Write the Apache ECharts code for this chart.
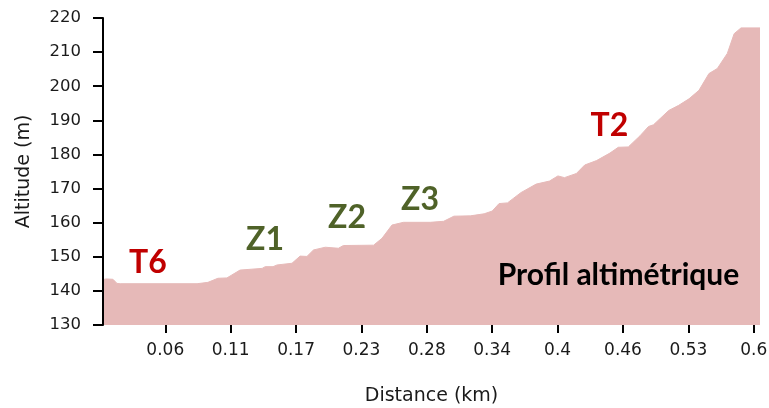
<!DOCTYPE html>
<html>
<head>
<meta charset="utf-8">
<script src="https://cdn.jsdelivr.net/npm/echarts@6/dist/echarts.min.js"></script>
<style>html,body{margin:0;padding:0;background:#fff}#chart{width:769px;height:408px}</style>
</head>
<body>
<div id="chart"></div>
<script>
// Position along the track (sample number) and altitude (m) read from the profile
const trackPosition = [0, 1, 3.2, 4.5, 5.5, 30.2, 30.5, 33.7, 36.9, 39.8, 44, 51.1, 52.1, 54.6, 55.9, 60.7, 63.3, 65.5, 67.6, 71.4, 75.6, 77.2, 86.9, 89.6, 92.8, 96.5, 105.1, 109.4, 112.7, 118, 122.4, 125, 127.2, 129.9, 134.2, 139.1, 143.4, 146.1, 148.2, 152, 154.7, 158.5, 162.8, 165.5, 168.7, 172.5, 175.2, 176.8, 181.7, 184.9, 188.2, 191.4, 194.6, 197.3, 200.5, 202.7, 204.9, 211];
const altitude = [143.3, 143.5, 143.4, 142.2, 142.1, 142.1, 142.5, 142.5, 143.7, 143.8, 146.1, 146.6, 147.1, 147.1, 147.6, 148.1, 150.2, 150.1, 152.0, 152.8, 152.5, 153.3, 153.4, 155.4, 159.3, 160.1, 160.1, 160.4, 161.9, 162.0, 162.6, 163.4, 165.6, 165.8, 168.8, 171.3, 172.2, 173.7, 173.2, 174.4, 176.9, 178.2, 180.4, 182.1, 182.2, 185.5, 188.2, 188.7, 192.9, 194.4, 196.3, 198.8, 203.7, 205.2, 209.6, 215.4, 217.1, 217.1];
// Distance tick marks (sample number) and their labels (km)
const tickPositions = [20, 41, 62, 83, 104, 125, 146, 167, 188, 209];
const tickLabels = ['0.06', '0.11', '0.17', '0.23', '0.28', '0.34', '0.4', '0.46', '0.53', '0.6'];
// Annotations
const zoneLabels = ['T6', 'Z1', 'Z2', 'Z3', 'T2'];
const zoneColors = ['#C00000', '#4F6228', '#4F6228', '#4F6228', '#C00000'];
const chartTitle = 'Profil altimétrique';

const chart = echarts.init(document.getElementById('chart'), null, {renderer: 'canvas'});
const seriesData = trackPosition.map((x, i) => [x, altitude[i]]);
const zonePos = [[148, 263], [265, 239.5], [347, 218], [420, 199.5], [609.5, 125.7]];

chart.setOption({
  animation: false,
  grid: {left: 103, right: 9, top: 18, bottom: 83, containLabel: false, outerBoundsMode: 'none'},
  xAxis: {
    type: 'value', min: 0, max: 211,
    name: 'Distance (km)', nameLocation: 'middle', nameGap: 62,
    nameTextStyle: {fontFamily: 'DejaVu Sans', fontSize: 19, color: '#1a1a1a'},
    axisLine: {show: false},
    splitLine: {show: false},
    axisTick: {show: true, customValues: tickPositions, length: 8, lineStyle: {color: '#000', width: 2}},
    axisLabel: {
      customValues: tickPositions, margin: 17,
      fontFamily: 'DejaVu Sans', fontSize: 17, color: '#1a1a1a',
      formatter: v => { const k = tickPositions.indexOf(v); return k >= 0 ? tickLabels[k] : ''; }
    }
  },
  yAxis: {
    type: 'value', min: 130, max: 220, interval: 10, z: 10,
    name: 'Altitude (m)', nameLocation: 'middle', nameGap: 69, nameRotate: 90,
    nameTextStyle: {fontFamily: 'DejaVu Sans', fontSize: 19, color: '#1a1a1a'},
    axisLine: {show: true, lineStyle: {color: '#000', width: 2}},
    axisTick: {show: true, length: 10, lineStyle: {color: '#000', width: 2}},
    splitLine: {show: false},
    axisLabel: {margin: 22, fontFamily: 'DejaVu Sans', fontSize: 16.5, color: '#1a1a1a'}
  },
  series: [{
    type: 'line', data: seriesData, symbol: 'none', smooth: false,
    lineStyle: {color: '#E6B9B8', width: 1},
    areaStyle: {color: '#E6B9B8', opacity: 1, origin: 'start'}
  }],
  graphic: zoneLabels.map((t, i) => ({
    type: 'text', x: zonePos[i][0], y: zonePos[i][1], z: 100,
    style: {text: t, fill: zoneColors[i], font: 'bold 32px Lato', textAlign: 'center', textVerticalAlign: 'middle'}
  })).concat([{
    type: 'text', x: 618.5, y: 275, z: 100,
    style: {text: chartTitle, fill: '#000', font: 'bold 30px Lato', textAlign: 'center', textVerticalAlign: 'middle'}
  }])
});
</script>
</body>
</html>
